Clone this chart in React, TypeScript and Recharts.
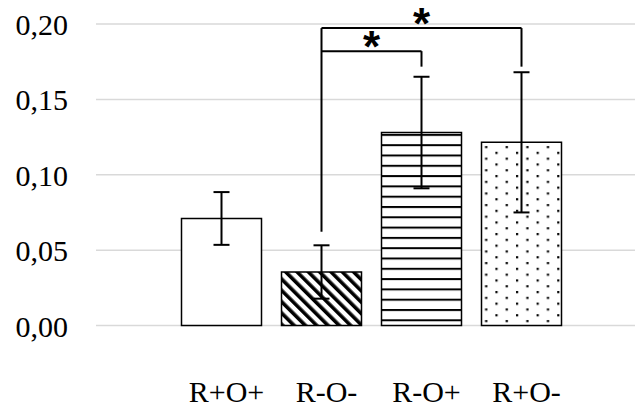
import { BarChart, Bar, XAxis, YAxis, CartesianGrid, Cell, ErrorBar, ReferenceLine } from 'recharts'

const categories = ['R+O+', 'R-O-', 'R-O+', 'R+O-']
const means = [0.071, 0.0355, 0.128, 0.1215]
const errors = [0.0175, 0.0177, 0.037, 0.0465]
const fills = ['#ffffff', 'url(#diag)', 'url(#hlines)', 'url(#dots)']
const yTicks = [0, 0.05, 0.1, 0.15, 0.2]

// significance brackets: [from, to, level, right leg end]
const brackets: [string, string, number, number][] = [
  ['R-O-', 'R+O-', 0.1973, 0.1717],
  ['R-O-', 'R-O+', 0.182, 0.1717],
]
const leftLegEnd = 0.0622

const data = categories.map((name, i) => ({ name, value: means[i], err: errors[i] }))

const SERIF = '"Liberation Serif", "Times New Roman", Times, serif'

const YTick = ({ x, y, payload }: any) => (
  <text x={x} y={y} dy={11} textAnchor="end" fill="#000" style={{ fontFamily: SERIF, fontSize: 30 }}>
    {Number(payload.value).toFixed(2).replace('.', ',')}
  </text>
)

const XTick = ({ x, y, payload }: any) => (
  <text x={x + 5} y={y} dy={74} textAnchor="middle" fill="#000" style={{ fontFamily: SERIF, fontSize: 30 }}>
    {payload.value}
  </text>
)

const Star = ({ viewBox }: any) => {
  if (!viewBox) return null
  const cx = viewBox.x + viewBox.width / 2
  return (
    <text
      x={cx}
      y={viewBox.y + 11}
      textAnchor="middle"
      fill="#000"
      style={{ fontFamily: '"Liberation Sans", Arial, sans-serif', fontSize: 44, fontWeight: 'bold' }}
    >
      *
    </text>
  )
}

export default function App() {
  return (
    <div style={{ position: 'absolute', left: 0, top: 0, background: '#fff' }}>
      <svg width={0} height={0} style={{ position: 'absolute' }}>
        <defs>
          <pattern id="diag" width={8} height={8} patternUnits="userSpaceOnUse" patternTransform="rotate(-45)">
            <rect width={8} height={8} fill="#fff" />
            <rect width={3.6} height={8} fill="#000" />
          </pattern>
          <pattern id="hlines" width={10} height={10.3} patternUnits="userSpaceOnUse">
            <rect width={10} height={10.3} fill="#fff" />
            <rect y={0} width={10} height={2} fill="#000" />
          </pattern>
          <pattern id="dots" width={20.6} height={11.6} patternUnits="userSpaceOnUse">
            <rect width={20.6} height={11.6} fill="#fff" />
            <rect x={1} y={1} width={2.2} height={2.2} fill="#000" />
            <rect x={11.3} y={6.8} width={2.2} height={2.2} fill="#000" />
          </pattern>
        </defs>
      </svg>
      <BarChart width={635} height={407} data={data} margin={{ top: 24, right: 0, left: 0, bottom: 0 }}>
        <CartesianGrid vertical={false} stroke="#d9d9d9" strokeWidth={1.5} />
        <XAxis
          dataKey="name"
          axisLine={false}
          tickLine={false}
          tickSize={0}
          height={81.5}
          padding={{ left: 75.5, right: 63.5 }}
          tick={<XTick />}
          interval={0}
        />
        <YAxis
          domain={[0, 0.2]}
          ticks={yTicks}
          axisLine={false}
          tickLine={false}
          tickSize={0}
          tickMargin={28}
          width={96}
          tick={<YTick />}
        />
        <Bar dataKey="value" barSize={80} stroke="#000" strokeWidth={1.5} isAnimationActive={false}>
          {data.map((d, i) => (
            <Cell key={d.name} fill={fills[i]} />
          ))}
          <ErrorBar dataKey="err" width={8} stroke="#000" strokeWidth={2} isAnimationActive={false} />
        </Bar>
        {brackets.map(([from, to, level], i) => (
          <ReferenceLine
            key={`h${i}`}
            segment={[{ x: from, y: level }, { x: to, y: level }]}
            stroke="#000"
            strokeWidth={2}
            ifOverflow="visible"
            label={<Star />}
          />
        ))}
        {brackets.map(([, to, level, rightEnd], i) => (
          <ReferenceLine
            key={`r${i}`}
            segment={[{ x: to, y: level }, { x: to, y: rightEnd }]}
            stroke="#000"
            strokeWidth={2}
            ifOverflow="visible"
          />
        ))}
        <ReferenceLine
          segment={[{ x: brackets[0][0], y: brackets[0][2] }, { x: brackets[0][0], y: leftLegEnd }]}
          stroke="#000"
          strokeWidth={2}
          ifOverflow="visible"
        />
      </BarChart>
    </div>
  )
}
